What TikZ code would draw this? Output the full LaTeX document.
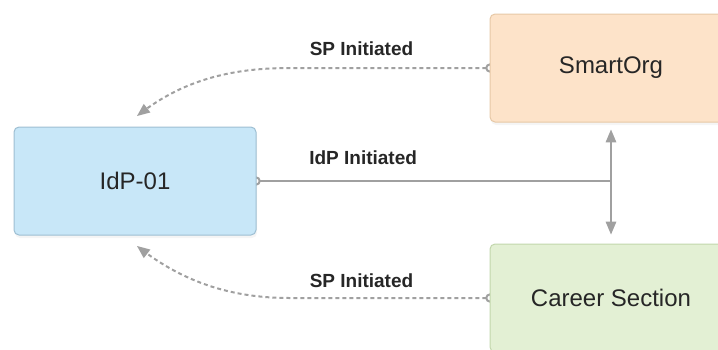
\documentclass[tikz,border=0pt]{standalone}
\usepackage{fontspec}
\setmainfont{Liberation Sans}
\usetikzlibrary{arrows,shadows,backgrounds}
\definecolor{idpfill}{HTML}{C8E7F8}
\definecolor{idpedge}{HTML}{9EBFD2}
\definecolor{orgfill}{HTML}{FDE3C9}
\definecolor{orgedge}{HTML}{E6C8A6}
\definecolor{carfill}{HTML}{E3F0D4}
\definecolor{caredge}{HTML}{C2D6AC}
\definecolor{linkgray}{HTML}{A0A0A0}

\begin{document}
\begin{tikzpicture}[x=1pt,y=-1pt,>=triangle 45,
	box node/.style={draw,rounded corners=5pt,minimum width=242pt,minimum height=108pt,
		line width=1pt,font=\fontsize{24}{28}\selectfont,text=black!85,
		drop shadow={opacity=0.08,shadow xshift=1pt,shadow yshift=-3pt}},
	label node/.style={font=\fontsize{19}{22}\selectfont\bfseries,text=black!85,inner sep=0pt},
	link/.style={draw=linkgray,line width=2pt},
	sp link/.style={link,dash pattern=on 4pt off 3pt}]
\useasboundingbox (0,0) rectangle (718,349);
\node[box node,fill=idpfill,draw=idpedge] (idp) at (135,181) {IdP-01};
\node[box node,fill=orgfill,draw=orgedge] (org) at (611,68) {SmartOrg};
\node[box node,fill=carfill,draw=caredge] (career) at (611,298) {Career Section};
\coordinate (top tip) at (137,116);
\coordinate (low tip) at (137,246);
\coordinate (junction) at (612,181);
\begin{pgfonlayer}{background}
% sp initiated
\draw[sp link,o->,shorten <=-5pt] (org.west) -- node[label node,above=11pt,pos=0.64] (sp top) {SP Initiated}
	++(-200,0) .. controls +(-60,0) and +(45,-35) .. (top tip);
\draw[sp link,o->,shorten <=-5pt] (career.west) -- node[label node,above=9pt,pos=0.64] (sp low) {SP Initiated}
	++(-200,0) .. controls +(-60,0) and +(45,35) .. (low tip);
% idp initiated
\draw[link,o-,shorten <=-5pt] (idp.east) -- node[label node,above=15pt,pos=0.3] (idp lbl) {IdP Initiated} (junction);
\draw[link,<->] ([yshift=-7pt]org.south) -- ([yshift=9pt]career.north);
\end{pgfonlayer}
\end{tikzpicture}
\end{document}
